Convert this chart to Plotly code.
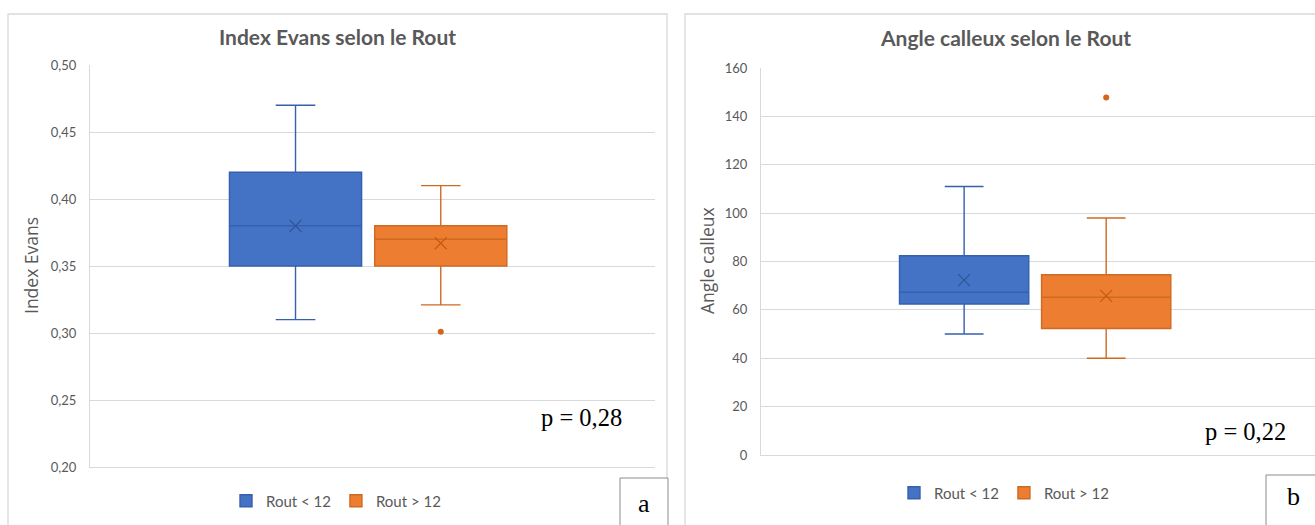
import plotly.graph_objects as go

# ---------------- data ----------------
groups = ["Rout < 12", "Rout > 12"]
colors_fill = ["#4472C4", "#ED7D31"]
colors_line = ["#3560AE", "#CF6A22"]
colors_mark = ["#2F5597", "#C55A11"]

# Panel a : Index Evans
evans_q1 = [0.35, 0.35]
evans_median = [0.38, 0.37]
evans_q3 = [0.42, 0.38]
evans_lower = [0.31, 0.321]
evans_upper = [0.47, 0.41]
evans_mean = [0.38, 0.367]
evans_out_group = ["Rout > 12"]
evans_out_value = [0.301]
evans_ticks = [0.20, 0.25, 0.30, 0.35, 0.40, 0.45, 0.50]

# Panel b : Angle calleux
angle_q1 = [62.4, 52.3]
angle_median = [67.3, 65.2]
angle_q3 = [82.4, 74.5]
angle_lower = [50, 40]
angle_upper = [111, 98]
angle_mean = [72.3, 65.8]
angle_out_group = ["Rout > 12"]
angle_out_value = [147.8]
angle_ticks = [0, 20, 40, 60, 80, 100, 120, 140, 160]

W, H = 1315, 525
def px(x):
    return x / W
def py(y):
    return 1 - y / H

fig = go.Figure()

panels = [
    dict(xa="x", ya="y", leg="legend", q1=evans_q1, med=evans_median, q3=evans_q3,
         lo=evans_lower, up=evans_upper, mean=evans_mean,
         og=evans_out_group, ov=evans_out_value),
    dict(xa="x2", ya="y2", leg="legend2", q1=angle_q1, med=angle_median, q3=angle_q3,
         lo=angle_lower, up=angle_upper, mean=angle_mean,
         og=angle_out_group, ov=angle_out_value),
]

for p in panels:
    for i, g in enumerate(groups):
        fig.add_trace(go.Box(
            x=[g], q1=[p["q1"][i]], median=[p["med"][i]], q3=[p["q3"][i]],
            lowerfence=[p["lo"][i]], upperfence=[p["up"][i]],
            name=g, fillcolor=colors_fill[i],
            line=dict(color=colors_line[i], width=1.4),
            whiskerwidth=0.3, boxpoints=False,
            xaxis=p["xa"], yaxis=p["ya"], legend=p["leg"],
            hoverinfo="skip",
        ))
    # mean markers
    for i, g in enumerate(groups):
        fig.add_trace(go.Scatter(
            x=[g], y=[p["mean"][i]], mode="markers",
            marker=dict(symbol="x-thin-open", size=12, color=colors_mark[i],
                        line=dict(color=colors_mark[i], width=1.2)),
            showlegend=False, xaxis=p["xa"], yaxis=p["ya"], hoverinfo="skip",
        ))
    # outliers
    fig.add_trace(go.Scatter(
        x=p["og"], y=p["ov"], mode="markers",
        marker=dict(symbol="circle", size=6, color="#D0651C"),
        showlegend=False, xaxis=p["xa"], yaxis=p["ya"], hoverinfo="skip",
    ))

grid = "#D9D9D9"
tickfont = dict(family="Lato, Open Sans, sans-serif", size=13, color="#595959")
legfont = dict(family="Lato, Open Sans, sans-serif", size=15, color="#595959")

fig.update_layout(
    width=W, height=H,
    margin=dict(l=0, r=0, t=0, b=0, autoexpand=False),
    paper_bgcolor="white", plot_bgcolor="white",
    separators=",.",
    boxmode="overlay", boxgap=0.09, boxgroupgap=0,
    showlegend=True,
    xaxis=dict(domain=[px(90), px(655)], type="category",
               categoryorder="array", categoryarray=groups,
               range=[-1.415, 2.475], showticklabels=False, showgrid=False,
               zeroline=False, showline=True, linecolor=grid, ticks="",
               anchor="y"),
    yaxis=dict(domain=[py(467), py(65)], range=[0.20, 0.50], tickvals=evans_ticks,
               tickformat=".2f", showgrid=True, gridcolor=grid, gridwidth=1.3,
               zeroline=False, showline=True, linecolor=grid, linewidth=1.3,
               ticks="", ticklabelstandoff=10, tickfont=tickfont, anchor="x"),
    xaxis2=dict(domain=[px(761), 1.0], type="category",
                categoryorder="array", categoryarray=groups,
                range=[-1.43, 2.47], showticklabels=False, showgrid=False,
                zeroline=False, showline=True, linecolor=grid, ticks="",
                anchor="y2"),
    yaxis2=dict(domain=[py(455), py(68)], range=[0, 160], tickvals=angle_ticks,
                showgrid=True, gridcolor=grid, gridwidth=1.3,
                zeroline=False, showline=True, linecolor=grid, linewidth=1.3,
                ticks="", ticklabelstandoff=10, tickfont=tickfont, anchor="x2"),
    legend=dict(orientation="h", x=px(336), xanchor="center", y=py(501),
                yanchor="middle", itemwidth=30, font=legfont,
                bgcolor="rgba(0,0,0,0)"),
    legend2=dict(orientation="h", x=px(1004), xanchor="center", y=py(493),
                 yanchor="middle", itemwidth=30, font=legfont,
                 bgcolor="rgba(0,0,0,0)"),
)

# chart frames
fig.add_shape(type="rect", xref="paper", yref="paper",
              x0=px(8), x1=px(667), y0=py(540), y1=py(14),
              line=dict(color=grid, width=1.3), layer="below")
fig.add_shape(type="rect", xref="paper", yref="paper",
              x0=px(685), x1=px(1340), y0=py(540), y1=py(14),
              line=dict(color=grid, width=1.3), layer="below")
# letter boxes
fig.add_shape(type="rect", xref="paper", yref="paper",
              x0=px(620), x1=px(668), y0=py(540), y1=py(478),
              line=dict(color="#8C8C8C", width=1), fillcolor="white")
fig.add_shape(type="rect", xref="paper", yref="paper",
              x0=px(1266), x1=px(1340), y0=py(540), y1=py(475),
              line=dict(color="#8C8C8C", width=1), fillcolor="white")

titlefont = dict(family="Lato, Open Sans, sans-serif", size=21, color="#595959")
axfont = dict(family="Open Sans, sans-serif", size=17.5, color="#595959")
serif = dict(family="Liberation Serif, Times New Roman, serif", size=24.5, color="black")

annotations = [
    dict(text="<b>Index Evans selon le Rout</b>", x=px(337), y=py(36), font=titlefont),
    dict(text="<b>Angle calleux selon le Rout</b>", x=px(1005), y=py(37), font=titlefont),
    dict(text="Index Evans", x=px(31), y=py(266), textangle=-90, font=axfont),
    dict(text="Angle calleux", x=px(707), y=py(261), textangle=-90, font=axfont),
    dict(text="p = 0,28", x=px(581), y=py(417), font=serif),
    dict(text="p = 0,22", x=px(1245), y=py(431), font=serif),
    dict(text="a", x=px(644), y=py(503), font=dict(family="Liberation Serif, serif", size=26, color="black")),
    dict(text="b", x=px(1293), y=py(496), font=dict(family="Liberation Serif, serif", size=26, color="black")),
]
for a in annotations:
    fig.add_annotation(xref="paper", yref="paper", showarrow=False,
                       xanchor="center", yanchor="middle", **a)

fig.write_html("out.html", config={"displayModeBar": False},
               post_script="document.body.style.margin='0';document.body.style.overflow='hidden';")
